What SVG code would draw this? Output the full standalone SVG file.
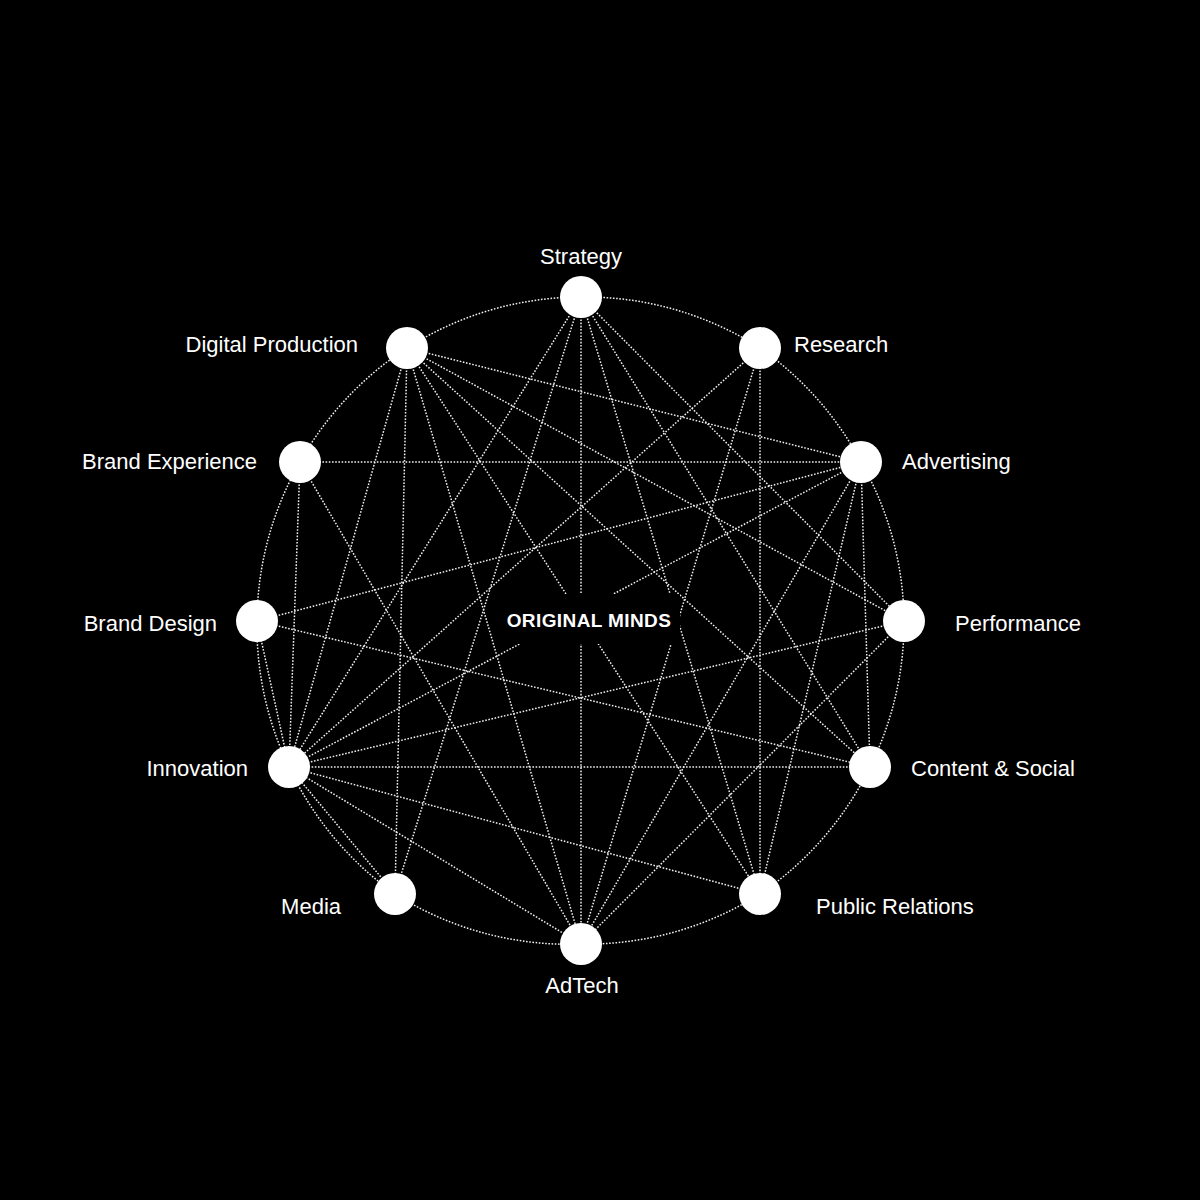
<svg xmlns="http://www.w3.org/2000/svg" width="1200" height="1200" viewBox="0 0 1200 1200">
<style>
.edge{stroke:#f0f0f0;stroke-width:1.5;stroke-dasharray:1.6 1.6;fill:none}
.node circle{fill:#ffffff}
.label{font-family:"Liberation Sans",Arial,Helvetica,sans-serif;font-size:22px;fill:#ffffff}
.center{font-family:"Liberation Sans",Arial,Helvetica,sans-serif;font-size:19px;font-weight:bold;fill:#ffffff;letter-spacing:0.4px}
</style>
<rect x="0" y="0" width="1200" height="1200" fill="#000000"/>
<g id="connectors">
<path class="edge" d="M581,297 A324,324 0 0 1 760,348 A324,324 0 0 1 861,462 A324,324 0 0 1 904,621 A324,324 0 0 1 870,767 A324,324 0 0 1 760,894 A324,324 0 0 1 581,944 A324,324 0 0 1 395,894 A324,324 0 0 1 289,767 A324,324 0 0 1 257,621 A324,324 0 0 1 300,462 A324,324 0 0 1 407,348 A324,324 0 0 1 581,297"/>
<line class="edge" x1="581" y1="297" x2="289" y2="767"/>
<line class="edge" x1="581" y1="297" x2="395" y2="894"/>
<line class="edge" x1="581" y1="297" x2="581" y2="944"/>
<line class="edge" x1="581" y1="297" x2="760" y2="894"/>
<line class="edge" x1="581" y1="297" x2="870" y2="767"/>
<line class="edge" x1="581" y1="297" x2="904" y2="621"/>
<line class="edge" x1="760" y1="348" x2="289" y2="767"/>
<line class="edge" x1="760" y1="348" x2="581" y2="944"/>
<line class="edge" x1="760" y1="348" x2="760" y2="894"/>
<line class="edge" x1="407" y1="348" x2="861" y2="462"/>
<line class="edge" x1="407" y1="348" x2="904" y2="621"/>
<line class="edge" x1="407" y1="348" x2="870" y2="767"/>
<line class="edge" x1="407" y1="348" x2="760" y2="894"/>
<line class="edge" x1="407" y1="348" x2="581" y2="944"/>
<line class="edge" x1="407" y1="348" x2="395" y2="894"/>
<line class="edge" x1="407" y1="348" x2="289" y2="767"/>
<line class="edge" x1="300" y1="462" x2="861" y2="462"/>
<line class="edge" x1="300" y1="462" x2="581" y2="944"/>
<line class="edge" x1="300" y1="462" x2="289" y2="767"/>
<line class="edge" x1="257" y1="621" x2="861" y2="462"/>
<line class="edge" x1="257" y1="621" x2="870" y2="767"/>
<line class="edge" x1="257" y1="621" x2="289" y2="767"/>
<line class="edge" x1="861" y1="462" x2="289" y2="767"/>
<line class="edge" x1="861" y1="462" x2="581" y2="944"/>
<line class="edge" x1="861" y1="462" x2="760" y2="894"/>
<line class="edge" x1="861" y1="462" x2="870" y2="767"/>
<line class="edge" x1="904" y1="621" x2="289" y2="767"/>
<line class="edge" x1="904" y1="621" x2="581" y2="944"/>
<line class="edge" x1="870" y1="767" x2="289" y2="767"/>
<line class="edge" x1="760" y1="894" x2="289" y2="767"/>
<line class="edge" x1="581" y1="944" x2="289" y2="767"/>
<line class="edge" x1="395" y1="894" x2="289" y2="767"/>
</g>
<g id="center">
<rect x="498" y="594" width="182" height="50" fill="#000000"/>
<text class="center" x="589" y="627" text-anchor="middle">ORIGINAL MINDS</text>
</g>
<g id="node-strategy" class="node"><circle cx="581" cy="297" r="21"/><text class="label" x="581" y="264" text-anchor="middle">Strategy</text></g>
<g id="node-research" class="node"><circle cx="760" cy="348" r="21"/><text class="label" x="794" y="352">Research</text></g>
<g id="node-advertising" class="node"><circle cx="861" cy="462" r="21"/><text class="label" x="902" y="469">Advertising</text></g>
<g id="node-performance" class="node"><circle cx="904" cy="621" r="21"/><text class="label" x="955" y="631">Performance</text></g>
<g id="node-content-social" class="node"><circle cx="870" cy="767" r="21"/><text class="label" x="911" y="776">Content &amp; Social</text></g>
<g id="node-public-relations" class="node"><circle cx="760" cy="894" r="21"/><text class="label" x="816" y="914">Public Relations</text></g>
<g id="node-adtech" class="node"><circle cx="581" cy="944" r="21"/><text class="label" x="582" y="993" text-anchor="middle">AdTech</text></g>
<g id="node-media" class="node"><circle cx="395" cy="894" r="21"/><text class="label" x="341" y="914" text-anchor="end">Media</text></g>
<g id="node-innovation" class="node"><circle cx="289" cy="767" r="21"/><text class="label" x="248" y="776" text-anchor="end">Innovation</text></g>
<g id="node-brand-design" class="node"><circle cx="257" cy="621" r="21"/><text class="label" x="217" y="631" text-anchor="end">Brand Design</text></g>
<g id="node-brand-experience" class="node"><circle cx="300" cy="462" r="21"/><text class="label" x="257" y="469" text-anchor="end">Brand Experience</text></g>
<g id="node-digital-production" class="node"><circle cx="407" cy="348" r="21"/><text class="label" x="358" y="352" text-anchor="end">Digital Production</text></g>
</svg>
